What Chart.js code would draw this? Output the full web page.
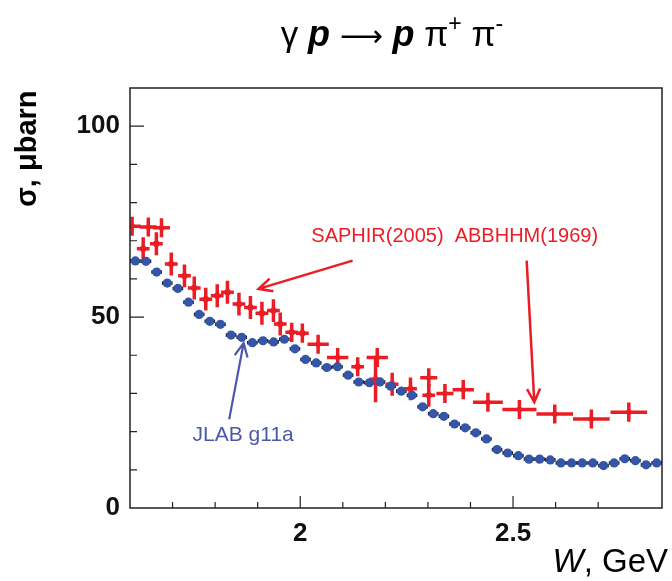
<!DOCTYPE html>
<html>
<head>
<meta charset="utf-8">
<script src="https://cdn.jsdelivr.net/npm/chart.js@4.4.1/dist/chart.umd.min.js"></script>
<style>
	body { margin: 0; background: #fff; }
	canvas { display: block; }
</style>
</head>
<body>
<canvas id="chart-xsec" width="672" height="581"></canvas>
<script>
// JLAB g11a (blue dots)
const jlabW = [1.6125, 1.6375, 1.6625, 1.6875, 1.7125, 1.7375, 1.7625, 1.7875, 1.8125, 1.8375,
	1.8625, 1.8875, 1.9125, 1.9375, 1.9625, 1.9875, 2.0125, 2.0375, 2.0625, 2.0875,
	2.1125, 2.1375, 2.1625, 2.1875, 2.2125, 2.2375, 2.2625, 2.2875, 2.3125, 2.3375,
	2.3625, 2.3875, 2.4125, 2.4375, 2.4625, 2.4875, 2.5125, 2.5375, 2.5625, 2.5875,
	2.6125, 2.6375, 2.6625, 2.6875, 2.7125, 2.7375, 2.7625, 2.7875, 2.8125, 2.8375]
const jlabSigma = [64.7, 64.6, 61.8, 58.9, 57.5, 53.9, 50.7, 48.9, 48.1, 45.3,
	44.7, 43.3, 43.8, 43.5, 44.2, 41.7, 38.9, 38.0, 36.8, 37.0,
	34.8, 33.0, 32.8, 33.0, 31.9, 30.6, 29.5, 26.5, 24.7, 24.0,
	22.0, 21.0, 19.7, 18.1, 15.3, 14.4, 13.7, 12.8, 12.8, 12.6,
	11.8, 11.8, 11.8, 11.8, 11.1, 11.8, 12.9, 12.4, 11.3, 11.8]
const jlabWErr = jlabW.map(() => 0.0125)

// SAPHIR (2005)
const saphirW = [1.631, 1.662, 1.697, 1.728, 1.751, 1.778, 1.805, 1.829, 1.856, 1.883,
	1.910, 1.937, 1.953, 1.980, 2.005, 2.135, 2.177, 2.216, 2.259, 2.302]
const saphirSigma = [67.9, 69.2, 63.9, 60.8, 57.6, 54.7, 55.6, 56.5, 53.4, 52.5,
	51.0, 51.7, 48.2, 46.0, 45.8, 37.0, 33.7, 32.4, 31.2, 29.5]
const saphirSigmaErr = [3, 3, 3, 3, 3, 3, 3, 3, 3, 3,
	3, 3, 3, 2.5, 2.5, 2.5, 6, 3, 3, 3]
const saphirWErr = saphirW.map(() => 0.015)

// ABBHHM (1969)
const abbhhmW = [1.605, 1.643, 1.674, 2.042, 2.088, 2.181, 2.302, 2.340, 2.383, 2.441,
	2.515, 2.598, 2.684, 2.772]
const abbhhmSigma = [73.8, 73.6, 73.4, 42.9, 39.4, 39.4, 34.1, 30.0, 31.0, 27.7,
	25.8, 24.6, 23.3, 25.1]
const abbhhmSigmaErr = [2.5, 2.5, 2.5, 2.5, 2.5, 2.5, 2.5, 2.5, 2.5, 2.5,
	2.5, 2.5, 2.5, 2.5]
const abbhhmWErr = [0.02, 0.02, 0.02, 0.025, 0.025, 0.025, 0.02, 0.02, 0.025, 0.035,
	0.04, 0.043, 0.043, 0.043]

// tick labels
const xLabels = [2, 2.5]
const yLabels = [0, 50, 100]

const red = '#ec1c24'
const blue = '#3556a8'
const noteBlue = '#4b58aa'

function toPoints(xs, ys) {
	return xs.map((w, i) => ({ x: w, y: ys[i] }))
}

const errorBars = {
	id: 'errorBars',
	beforeDatasetsDraw(chart) {
		const { ctx, chartArea, scales: { x, y } } = chart
		ctx.save()
		ctx.beginPath()
		ctx.rect(chartArea.left, chartArea.top, chartArea.width, chartArea.height)
		ctx.clip()
		chart.data.datasets.forEach(ds => {
			ctx.strokeStyle = ds.errColor
			ctx.lineWidth = ds.errWidth
			ds.data.forEach((p, i) => {
				const px = x.getPixelForValue(p.x)
				const py = y.getPixelForValue(p.y)
				ctx.beginPath()
				if (ds.xErr) {
					ctx.moveTo(x.getPixelForValue(p.x - ds.xErr[i]), py)
					ctx.lineTo(x.getPixelForValue(p.x + ds.xErr[i]), py)
				}
				if (ds.yErr) {
					ctx.moveTo(px, y.getPixelForValue(p.y - ds.yErr[i]))
					ctx.lineTo(px, y.getPixelForValue(p.y + ds.yErr[i]))
				}
				ctx.stroke()
			})
		})
		ctx.restore()
	}
}

function arrow(ctx, x0, y0, x1, y1, color, width) {
	const ang = Math.atan2(y1 - y0, x1 - x0)
	const head = 15
	ctx.strokeStyle = color
	ctx.lineWidth = width
	ctx.beginPath()
	ctx.moveTo(x0, y0)
	ctx.lineTo(x1, y1)
	ctx.moveTo(x1 - head * Math.cos(ang - 0.45), y1 - head * Math.sin(ang - 0.45))
	ctx.lineTo(x1, y1)
	ctx.lineTo(x1 - head * Math.cos(ang + 0.45), y1 - head * Math.sin(ang + 0.45))
	ctx.stroke()
}

// draws a row of [text, font, dy] pieces, returns width
function pieces(ctx, list, x, y, measureOnly) {
	let cx = x
	list.forEach(([txt, font, dy]) => {
		ctx.font = font
		if (!measureOnly) ctx.fillText(txt, cx, y + (dy || 0))
		cx += ctx.measureText(txt).width
	})
	return cx - x
}

const frameAndNotes = {
	id: 'frameAndNotes',
	afterDraw(chart) {
		const { ctx, chartArea: a, scales: { x, y } } = chart
		ctx.save()

		// inward tick marks
		ctx.strokeStyle = '#222'
		ctx.lineWidth = 1.2
		ctx.beginPath()
		y.ticks.forEach(t => {
			if (t.value <= 0 || t.value >= 110) return
			const py = y.getPixelForValue(t.value)
			const len = t.value % 50 === 0 ? 14 : 7
			ctx.moveTo(a.left, py)
			ctx.lineTo(a.left + len, py)
		})
		x.ticks.forEach(t => {
			const tenth = Math.round(t.value * 10)
			if (Math.abs(t.value * 10 - tenth) > 1e-6 || t.value <= 1.6 + 1e-6) return
			const px = x.getPixelForValue(t.value)
			const len = tenth % 5 === 0 ? 12 : 6
			ctx.moveTo(px, a.bottom)
			ctx.lineTo(px, a.bottom - len)
		})
		ctx.stroke()

		ctx.lineWidth = 1.5
		ctx.strokeRect(a.left, a.top, a.width, a.height)

		// title
		ctx.fillStyle = '#000'
		ctx.textBaseline = 'alphabetic'
		ctx.textAlign = 'left'
		const reg = '35px "Liberation Sans", Arial, sans-serif'
		const arr = '30px "DejaVu Sans", sans-serif'
		const pit = 'italic bold 36px "Liberation Sans", Arial, sans-serif'
		const sup = '23px "Liberation Sans", Arial, sans-serif'
		const title = [
			['γ ', reg], ['p', pit], [' ', reg], ['⟶', arr], [' ', reg], ['p', pit], [' π', reg], ['+', sup, -15],
			[' π', reg], ['-', sup, -15]
		]
		const tw = pieces(ctx, title, 0, 0, true)
		pieces(ctx, title, 392 - tw / 2, 46)

		// y axis title
		ctx.save()
		ctx.translate(36, 207)
		ctx.rotate(-Math.PI / 2)
		ctx.font = 'bold 29px "Liberation Sans", Arial, sans-serif'
		ctx.fillText('σ, μbarn', 0, 0)
		ctx.restore()

		// x axis title
		const xt = [['W', 'italic 33px "Liberation Sans", Arial, sans-serif'], [', GeV', '33px "Liberation Sans", Arial, sans-serif']]
		const xw = pieces(ctx, xt, 0, 0, true)
		pieces(ctx, xt, 668 - xw, 572)

		// notes
		ctx.fillStyle = red
		ctx.font = '20px "Liberation Sans", Arial, sans-serif'
		ctx.fillText('SAPHIR(2005)  ABBHHM(1969)', x.getPixelForValue(2.026), y.getPixelForValue(69.7))
		arrow(ctx, x.getPixelForValue(2.123), y.getPixelForValue(64.8), x.getPixelForValue(1.902), y.getPixelForValue(57.4), red, 2.5)
		arrow(ctx, x.getPixelForValue(2.532), y.getPixelForValue(64.8), x.getPixelForValue(2.550), y.getPixelForValue(27.7), red, 2.5)

		ctx.fillStyle = noteBlue
		ctx.font = '21px "Liberation Sans", Arial, sans-serif'
		ctx.fillText('JLAB g11a', x.getPixelForValue(1.747), y.getPixelForValue(17.6))
		arrow(ctx, x.getPixelForValue(1.833), y.getPixelForValue(23.2), x.getPixelForValue(1.867), y.getPixelForValue(43.2), noteBlue, 2.2)

		ctx.restore()
	}
}

const tickFont = { family: '"Liberation Sans", Arial, sans-serif', size: 26, weight: 'bold' }

new Chart(document.getElementById('chart-xsec').getContext('2d'), {
	type: 'scatter',
	data: {
		datasets: [
			{
				label: 'JLAB g11a',
				data: toPoints(jlabW, jlabSigma),
				xErr: jlabWErr,
				errColor: '#1a1a1a',
				errWidth: 3.5,
				pointRadius: 4.6,
				pointBackgroundColor: blue,
				pointBorderWidth: 0
			},
			{
				label: 'ABBHHM(1969)',
				data: toPoints(abbhhmW, abbhhmSigma),
				xErr: abbhhmWErr,
				yErr: abbhhmSigmaErr,
				errColor: red,
				errWidth: 3.5,
				pointRadius: 2.8,
				pointBackgroundColor: red,
				pointBorderWidth: 0
			},
			{
				label: 'SAPHIR(2005)',
				data: toPoints(saphirW, saphirSigma),
				xErr: saphirWErr,
				yErr: saphirSigmaErr,
				errColor: red,
				errWidth: 3.5,
				pointRadius: 3.2,
				pointBackgroundColor: red,
				pointBorderWidth: 0
			}
		]
	},
	options: {
		responsive: false,
		animation: false,
		layout: { padding: { top: 88, right: 4, left: 0, bottom: 0 } },
		plugins: {
			legend: { display: false },
			tooltip: { enabled: false }
		},
		scales: {
			x: {
				type: 'linear',
				min: 1.6,
				max: 2.85,
				afterFit: s => { s.height = 73 },
				grid: { display: false, drawTicks: false },
				border: { display: false },
				ticks: {
					stepSize: 0.1,
					autoSkip: false,
					maxRotation: 0,
					padding: 10,
					color: '#111',
					font: tickFont,
					callback: v => {
						const hit = xLabels.find(l => Math.abs(l - v) < 1e-6)
						return hit === undefined ? '' : String(hit)
					}
				}
			},
			y: {
				min: 0,
				max: 110,
				afterFit: s => { s.width = 130 },
				grid: { display: false, drawTicks: false },
				border: { display: false },
				ticks: {
					stepSize: 10,
					autoSkip: false,
					padding: 10,
					color: '#111',
					font: tickFont,
					callback: v => yLabels.includes(v) ? String(v) : ''
				}
			}
		}
	},
	plugins: [errorBars, frameAndNotes]
})
</script>
</body>
</html>
